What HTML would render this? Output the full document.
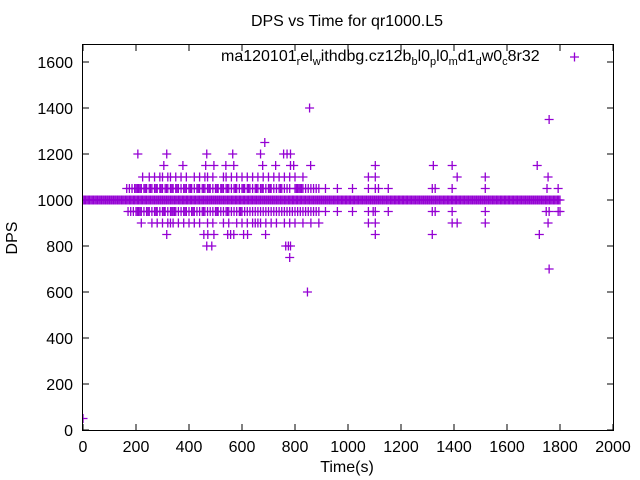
<!DOCTYPE html>
<html><head><meta charset="utf-8"><style>
html,body{margin:0;padding:0;background:#fff;}
svg{display:block;font-family:"Liberation Sans",sans-serif;}
</style></head><body>
<svg id="chart" width="640" height="480">
<rect width="640" height="480" fill="#fff"/>
<text x="347" y="26" font-size="16" text-anchor="middle">DPS vs Time for qr1000.L5</text>
<text x="347" y="472" font-size="16" text-anchor="middle">Time(s)</text>
<text x="17" y="238" font-size="16" text-anchor="middle" transform="rotate(-90 17 238)">DPS</text>
<g id="axes"></g>
<defs><clipPath id="pc"><rect x="83" y="45" width="530" height="386"/></clipPath></defs>
<g id="marks" stroke="#9400d3" stroke-width="1.3" clip-path="url(#pc)"></g>
<g>
<text x="221" y="61" font-size="16">ma120101<tspan font-size="11" dy="4">r</tspan><tspan dy="-4">el</tspan><tspan font-size="11" dy="4">w</tspan><tspan dy="-4">ithdbg.cz12b</tspan><tspan font-size="11" dy="4">b</tspan><tspan dy="-4">l0</tspan><tspan font-size="11" dy="4">p</tspan><tspan dy="-4">l0</tspan><tspan font-size="11" dy="4">m</tspan><tspan dy="-4">d1</tspan><tspan font-size="11" dy="4">d</tspan><tspan dy="-4">w0</tspan><tspan font-size="11" dy="4">c</tspan><tspan dy="-4">8r32</tspan></text>
<path d="M570,57H579M574.5,52.5V61.5" stroke="#9400d3" stroke-width="1.3"/>
</g>
</svg>
<script>
const xTicks=[0,200,400,600,800,1000,1200,1400,1600,1800,2000];
const yTicks=[0,200,400,600,800,1000,1200,1400,1600];
const t1000=[0,10,20,30,40,50,60,70,80,90,100,110,120,130,140,150,160,170,180,190,200,210,220,230,240,250,260,270,280,290,300,310,320,330,340,350,360,370,380,390,400,410,420,430,440,450,460,470,480,490,500,510,520,530,540,550,560,570,580,590,600,610,620,630,640,650,660,670,680,690,700,710,720,730,740,750,760,770,780,790,800,810,820,830,840,850,860,870,880,890,900,910,920,930,940,950,960,970,980,990,1000,1010,1020,1030,1040,1050,1060,1070,1080,1090,1100,1110,1120,1130,1140,1150,1160,1170,1180,1190,1200,1210,1220,1230,1240,1250,1260,1270,1280,1290,1300,1310,1320,1330,1340,1350,1360,1370,1380,1390,1400,1410,1420,1430,1440,1450,1460,1470,1480,1490,1500,1510,1520,1530,1540,1550,1560,1570,1580,1590,1600,1610,1620,1630,1640,1650,1660,1670,1680,1690,1700,1710,1720,1730,1740,1750,1760,1770,1780,1790,1800,1005,1015,1025,1035,1045,1055,1065,1075,1085,1095,1105,1115,1125,1135,1145,1155,1165,1175,1185,1195,1205,1215,1225,1235,1245,1255,1265,1275,1285,1295,1305,1315,1325,1335,1345,1355,1365,1375,1385,1395,1405,1415,1425,1435,1445,1455,1465,1475,1485,1495,1505,1515,1525,1535,1545,1555,1565,1575,1585,1595,1605,1615,1625,1635,1645,1655,1665,1675,1685,1695,1705,1715,1725,1735,1745,1755,1765,1775,1785,1795,5,15,25,35,45,55,65,75,85,95,105,115,125,135,145,155,165,175,185,195,205,215,225,235,245,255,265,275,285,295,305,315,325,335,345,355,365,375,385,395,405,415,425,435,445,455,465,475,485,495,505,515,525,535,545,555,565,575,585,595,605,615,625,635,645,655,665,675,685,695,705,715,725,735,745,755,765,775,785,795,805,815,825,835,845,855,865,875,885,895,905,915,925,935,945,955,965,975,985,995];
const t1050=[165,175,185,195,200,205,210,215,220,230,235,240,250,255,260,270,275,280,290,295,300,310,315,320,330,335,340,350,355,360,370,380,385,390,400,405,410,420,430,435,440,450,455,460,470,475,480,490,500,505,510,520,525,530,540,545,550,560,570,575,580,590,600,605,610,620,625,630,640,650,655,660,670,675,680,690,700,705,710,720,730,740,745,750,760,770,780,800,805,810,815,820,825,830,840,850,860,870,880,890,915,960,1017,1077,1103,1115,1152,1318,1329,1393,1518,1751,1793];
const t950=[170,180,190,200,205,210,215,220,230,240,245,250,260,270,275,280,290,300,305,310,320,330,335,340,345,350,360,370,380,385,390,400,410,415,420,430,440,450,455,460,470,480,490,500,505,510,520,530,540,545,550,560,570,580,590,595,600,610,620,630,640,650,660,670,680,690,700,710,720,730,740,750,760,770,780,790,800,810,820,830,840,850,860,870,880,890,915,960,1017,1077,1095,1103,1152,1318,1329,1393,1518,1748,1759,1793,1800];
const t1100=[225,250,270,290,300,320,330,350,370,390,420,440,460,470,490,530,540,560,580,600,620,640,660,680,700,720,740,760,780,800,830,1077,1103,1412,1518,1755];
const t900=[220,260,280,300,320,330,340,360,380,400,420,440,470,490,530,550,580,600,620,640,650,660,670,690,710,730,760,780,800,830,860,890,1077,1103,1393,1412,1518,1755];
const t1150=[305,377,463,494,539,569,678,727,783,795,859,1103,1322,1393,1714];
const t850=[316,456,471,494,546,557,569,606,621,689,1103,1318,1722];
const t1200=[207,316,467,565,670,757,770,783];
const t800=[467,486,765,775,783];
const tOther=[686,780,855,847,1759,1759,0];
const vOther=[1250,750,1400,600,1350,700,50];
const xs=t=>83+t*(613-83)/2000;
const ys=v=>430-v*(430-62)/1600;
const NS="http://www.w3.org/2000/svg";
const ax=document.getElementById('axes');
function mk(tag,attrs,parent){const e=document.createElementNS(NS,tag);for(const k in attrs)e.setAttribute(k,attrs[k]);parent.appendChild(e);return e;}
const frame=mk('rect',{x:82.5,y:44.5,width:531,height:386,fill:'none',stroke:'#000','stroke-width':1},ax);


xTicks.forEach(t=>{const x=xs(t);
 mk('line',{x1:x,y1:430,x2:x,y2:424,stroke:'#000'},ax);
 mk('line',{x1:x,y1:45,x2:x,y2:51,stroke:'#000'},ax);
 const lb=mk('text',{x:x,y:452,'font-size':16,'text-anchor':'middle'},ax);lb.textContent=t;
 
 });
yTicks.forEach(v=>{const y=ys(v);
 mk('line',{x1:83,y1:y,x2:89,y2:y,stroke:'#000'},ax);
 mk('line',{x1:613,y1:y,x2:607,y2:y,stroke:'#000'},ax);
 const lb=mk('text',{x:73,y:y+6,'font-size':16,'text-anchor':'end'},ax);lb.textContent=v;
 
 });
const mg=document.getElementById('marks');
function plus(x,y){const g=mk('path',{d:`M${x-4.5},${y}H${x+4.5}M${x},${y-4.5}V${y+4.5}`},mg);
 
 }
[[t1000,1000],[t1050,1050],[t950,950],[t1100,1100],[t900,900],[t1150,1150],[t850,850],[t1200,1200],[t800,800]].forEach(([arr,v])=>arr.forEach(t=>plus(xs(t),ys(v))));
tOther.forEach((t,i)=>plus(xs(t),ys(vOther[i])));
</script>
</body></html>
